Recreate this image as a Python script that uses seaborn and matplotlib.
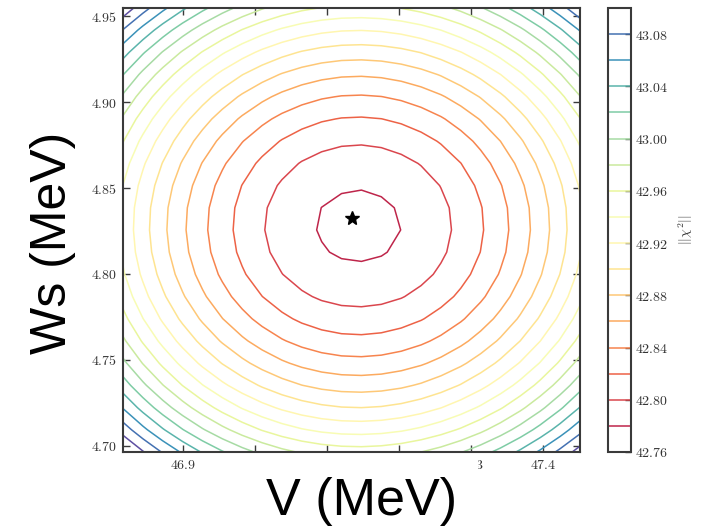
import numpy as np
import matplotlib
matplotlib.use("Agg")
import matplotlib.pyplot as plt
from matplotlib.patches import Rectangle
from matplotlib.ticker import FuncFormatter
import seaborn as sns

# chi^2 contour levels and colorbar ticks
levels = [42.76, 42.78, 42.80, 42.82, 42.84, 42.86, 42.88, 42.90, 42.92,
          42.94, 42.96, 42.98, 43.00, 43.02, 43.04, 43.06, 43.08, 43.10]
cbar_ticks = [42.76, 42.80, 42.84, 42.88, 42.92, 42.96, 43.00, 43.04, 43.08]

# half-widths of the contours along V (levels 42.78 ... 42.92)
hw_levels_V = [42.78, 42.80, 42.82, 42.84, 42.86, 42.88, 42.90, 42.92]
hw_V = [0.0600, 0.1299, 0.1750, 0.2097, 0.2396, 0.2667, 0.2907, 0.3118]
# half-heights of the contours along Ws (levels 42.78 ... 42.94)
hw_levels_W = [42.78, 42.80, 42.82, 42.84, 42.86, 42.88, 42.90, 42.92, 42.94]
hw_W = [0.0224, 0.0468, 0.0632, 0.0763, 0.0872, 0.0969, 0.1054, 0.1137, 0.1215]

# centre of the chi^2 bowl and best-fit point
center_V, center_W = 47.1435, 4.8279
best_V, best_W = 47.135, 4.8326

# scanned parameter ranges
V_range = (46.8167, 47.4514)
W_range = (4.6965, 4.9547)
n_V, n_W = 24, 21

xticks = [46.9, 47.0, 47.1, 47.2, 47.3, 47.4]
yticks = [4.70, 4.75, 4.80, 4.85, 4.90, 4.95]

# --- quadratic chi^2 model fitted to the contour widths ---
A = []
b = []
for lv, h in zip(hw_levels_V, hw_V):
    A.append([1.0, h ** 2, 0.0]); b.append(lv)
for lv, h in zip(hw_levels_W, hw_W):
    A.append([1.0, 0.0, h ** 2]); b.append(lv)
chi_min, c_V, c_W = np.linalg.lstsq(np.array(A), np.array(b), rcond=None)[0]

V_grid = np.linspace(*V_range, n_V)
W_grid = np.linspace(*W_range, n_W)
VV, WW = np.meshgrid(V_grid, W_grid)
chi2 = chi_min + c_V * (VV - center_V) ** 2 + c_W * (WW - center_W) ** 2

# --- style ---
sns.set_theme(style="white")
plt.rcParams["font.family"] = ["Liberation Sans", "DejaVu Sans"]
plt.rcParams["mathtext.fontset"] = "cm"
cmap = sns.color_palette("Spectral", as_cmap=True)
spine_col = "#3a3a3a"

fig = plt.figure(figsize=(7.06, 5.31), dpi=100)
ax = fig.add_axes([0.1742, 0.1488, 0.6473, 0.8362])
cax = fig.add_axes([0.8612, 0.1488, 0.0326, 0.8362])

cs = ax.contour(VV, WW, chi2, levels=levels, cmap=cmap, linewidths=1.1)
ax.plot([best_V], [best_W], marker="*", color="black", ms=10, ls="none")

ax.set_xlim(*V_range)
ax.set_ylim(*W_range)
ax.set_xticks(xticks)
ax.set_yticks(yticks)
ax.xaxis.set_major_formatter(FuncFormatter(lambda v, p: f"${v:.1f}$"))
ax.yaxis.set_major_formatter(FuncFormatter(lambda v, p: f"${v:.2f}$"))
ax.tick_params(direction="in", length=5, width=1, color=spine_col,
               labelsize=10, labelcolor="#333333", pad=4,
               top=True, right=True, bottom=True, left=True)
for s in ax.spines.values():
    s.set_color(spine_col)
    s.set_linewidth(1.5)

cb = fig.colorbar(cs, cax=cax)
cb.set_ticks(cbar_ticks)
cb.ax.yaxis.set_major_formatter(FuncFormatter(lambda v, p: f"${v:.2f}$"))
cb.ax.tick_params(direction="in", length=4, width=1, color=spine_col,
                  labelsize=10, labelcolor="#333333", pad=3)
cb.outline.set_edgecolor(spine_col)
cb.outline.set_linewidth(1.5)
cb.set_label(r"$||\chi^2||$", rotation=90, fontsize=10, labelpad=6,
             color="#333333")

# large axis titles on white panels
fig.patches.append(Rectangle((205 / 706, 0), (477.5 - 205) / 706, (531 - 455) / 531,
                             transform=fig.transFigure, facecolor="white",
                             edgecolor="none", zorder=5))
fig.text(362 / 706, 1 - 502 / 531, "V (MeV)", fontsize=37.5, color="black",
         ha="center", va="center", zorder=6)
fig.text(53 / 706, 1 - 243 / 531, "Ws (MeV)", fontsize=36, color="black",
         ha="center", va="center", rotation=90, zorder=6)

fig.savefig("out.png", dpi=100)
